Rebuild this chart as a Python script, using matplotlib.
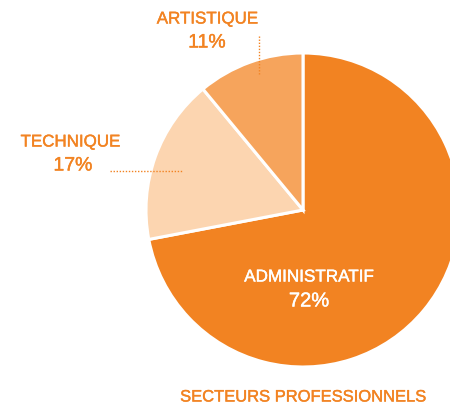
import matplotlib
matplotlib.use("Agg")
import matplotlib.pyplot as plt
import matplotlib.patheffects as pe

# données
secteurs = ["ADMINISTRATIF", "TECHNIQUE", "ARTISTIQUE"]
parts = [72, 17, 11]
couleurs = ["#F28322", "#FCD5B0", "#F6A45C"]
titre = "SECTEURS PROFESSIONNELS"

orange = "#F28322"
plt.rcParams['font.family'] = ['Liberation Sans', 'DejaVu Sans']

W, H = 450, 405
fig = plt.figure(figsize=(W / 100, H / 100), dpi=100)
ax = fig.add_axes([0, 0, 1, 1])


def py(y):
    # pixel y (depuis le haut) -> coordonnée de l'axe
    return H - y


def txt(x, y, s, c, size):
    # léger contour pour un rendu "medium"
    ax.text(x, py(y), s, color=c, fontsize=size, ha="center", va="center",
            path_effects=[pe.withStroke(linewidth=0.3, foreground=c)])


ax.pie(parts, colors=couleurs, startangle=90, counterclock=False,
       center=(303, py(210)), radius=157, frame=True,
       wedgeprops=dict(edgecolor="white", linewidth=2.2))
ax.set_xlim(0, W)
ax.set_ylim(0, H)
ax.set_aspect("equal")
ax.axis("off")

# étiquettes
txt(309, 277, secteurs[0], "white", 12.3)
txt(309, 301, f"{parts[0]}%", "white", 14.5)

txt(70, 142, secteurs[1], orange, 12.2)
txt(73, 166, f"{parts[1]}%", orange, 14)
ax.plot([110, 182], [py(171), py(171)], color=orange, linestyle=(0, (1, 1.2)), linewidth=1)

txt(207, 19, secteurs[2], orange, 12.2)
txt(207, 43, f"{parts[2]}%", orange, 14)
ax.plot([259, 259], [py(36), py(74)], color=orange, linestyle=(0, (1, 1.2)), linewidth=1)

txt(303, 397, titre, orange, 11.9)

fig.savefig("out.png", dpi=100)
